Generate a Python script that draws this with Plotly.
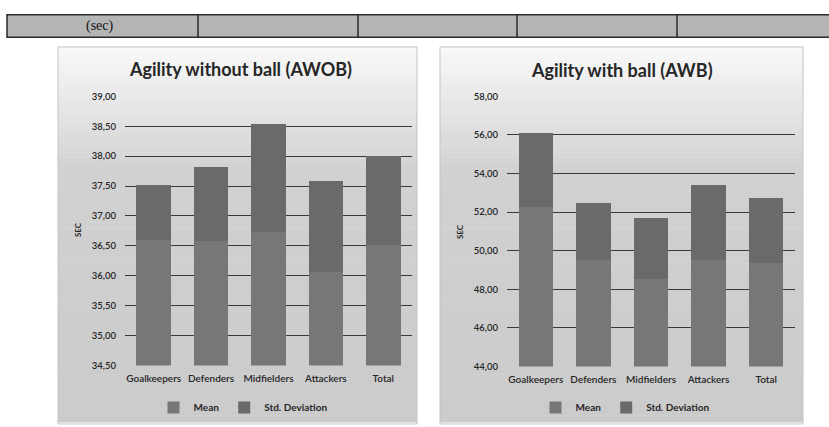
import plotly.graph_objects as go

# ---------------- data ----------------
categories = ["Goalkeepers", "Defenders", "Midfielders", "Attackers", "Total"]
awob_mean = [36.60, 36.58, 36.74, 36.07, 36.51]
awob_std = [0.92, 1.23, 1.79, 1.52, 1.49]
awb_mean = [52.25, 49.52, 48.51, 49.52, 49.34]
awb_std = [3.87, 2.93, 3.18, 3.87, 3.38]
series_names = ["Mean", "Std. Deviation"]
titles = ["Agility without ball (AWOB)", "Agility with ball (AWB)"]
table_first_cell = "(sec)"

W, H = 829, 427
MEAN_C = "#777777"
STD_C = "#6a6a6a"
GRID_C = "#383838"
TXT_C = "#262626"
FONT = "Lato"


def px(x):
    return x / W


def py(y):
    return 1 - y / H


fig = go.Figure()

# bars
for (m, s, xa, ya, lg) in [(awob_mean, awob_std, "x", "y", "legend"),
                           (awb_mean, awb_std, "x2", "y2", "legend2")]:
    fig.add_trace(go.Bar(x=categories, y=m, name=series_names[0], marker_color=MEAN_C,
                         marker_line_width=0, xaxis=xa, yaxis=ya, legend=lg))
    fig.add_trace(go.Bar(x=categories, y=s, name=series_names[1], marker_color=STD_C,
                         marker_line_width=0, xaxis=xa, yaxis=ya, legend=lg))

shapes = []


def band_color(y):
    t = min(max((y - 42) / 130.0, 0), 1)
    v = 249 - 40 * t
    if y > 172:
        v = 209 - 6 * min((y - 172) / 255.0, 1)
    v = int(round(v))
    return f"rgb({v},{v},{v})"


for (x0, x1) in [(58, 417), (440, 803)]:
    y = 42
    step = 6
    while y < H:
        shapes.append(dict(type="rect", xref="paper", yref="paper", layer="below",
                           x0=px(x0), x1=px(x1), y0=py(min(y + step, H) + 0.5), y1=py(y),
                           fillcolor=band_color(y + step / 2), line_width=0))
        y += step
    shapes.append(dict(type="rect", xref="paper", yref="paper", layer="below",
                       x0=px(x0), x1=px(x1), y0=py(H + 2), y1=py(42),
                       fillcolor="rgba(0,0,0,0)", line=dict(color="#c4c4c4", width=1)))

# table row at top
shapes.append(dict(type="rect", xref="paper", yref="paper", layer="above",
                   x0=px(7), x1=px(835), y0=py(32), y1=py(9),
                   fillcolor="#b5b5b5", line=dict(color="#2a2a2a", width=1.5)))
for xd in [198, 358, 517, 677]:
    shapes.append(dict(type="line", xref="paper", yref="paper", layer="above",
                       x0=px(xd), x1=px(xd), y0=py(32), y1=py(9),
                       line=dict(color="#2a2a2a", width=1.5)))

ann = dict(xref="paper", yref="paper", showarrow=False, xanchor="center", yanchor="middle")
annotations = [
    dict(text=table_first_cell, x=px(100), y=py(20.5),
         font=dict(family="Liberation Serif", size=14, color="#111"), **ann),
    dict(text=f"<b>{titles[0]}</b>", x=px(240), y=py(65),
         font=dict(family=FONT, size=18, color=TXT_C), **ann),
    dict(text=f"<b>{titles[1]}</b>", x=px(622), y=py(66),
         font=dict(family=FONT, size=18, color=TXT_C), **ann),
    dict(text="<b>SEC</b>", x=px(78), y=py(230), textangle=-90,
         font=dict(family=FONT, size=8, color=TXT_C), **ann),
    dict(text="<b>SEC</b>", x=px(460), y=py(232), textangle=-90,
         font=dict(family=FONT, size=8, color=TXT_C), **ann),
]

xcommon = dict(showgrid=False, zeroline=False, ticks="", showline=True,
               linecolor="rgba(0,0,0,0)", ticklabelstandoff=4,
               tickfont=dict(family=FONT, size=10, color=TXT_C, weight=600))
ycommon = dict(showgrid=True, gridcolor=GRID_C, gridwidth=1.4, zeroline=False,
               showline=False, ticks="", tickformat=".2f", ticklabelstandoff=8,
               tickfont=dict(family=FONT, size=9.5, color=TXT_C, weight=600))

legcommon = dict(orientation="h", xanchor="center", y=py(412), yanchor="middle",
                 bgcolor="rgba(0,0,0,0)", itemwidth=30, traceorder="normal",
                 font=dict(family=FONT, size=10, color=TXT_C, weight="bold"))

fig.update_layout(
    width=W, height=H, margin=dict(l=0, r=0, t=0, b=0),
    paper_bgcolor="white", plot_bgcolor="rgba(0,0,0,0)",
    barmode="stack", bargap=0.4, separators=",.",
    xaxis=dict(domain=[px(125), px(412)], anchor="y", **xcommon),
    yaxis=dict(domain=[py(369), py(92.7)], anchor="x", range=[34.5, 39], dtick=0.5,
               tick0=34.5, **ycommon),
    xaxis2=dict(domain=[px(507), px(795)], anchor="y2", **xcommon),
    yaxis2=dict(domain=[py(370), py(92.7)], anchor="x2", range=[44, 58], dtick=2,
                tick0=44, **ycommon),
    legend=dict(x=px(243), **legcommon),
    legend2=dict(x=px(625), **legcommon),
    shapes=shapes, annotations=annotations,
)

fig.write_html("out.html")
